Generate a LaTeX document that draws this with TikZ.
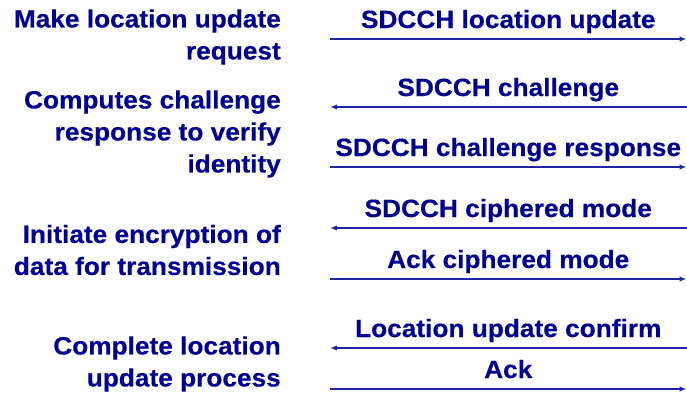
\documentclass[tikz,border=0pt]{standalone}
\usepackage{fontspec}
\setmainfont{Liberation Sans}[FakeStretch=1.05, BoldFeatures={FakeBold=0.4}]
\usetikzlibrary{arrows.meta}
\definecolor{navy}{RGB}{0,0,145}
\definecolor{linecol}{RGB}{35,35,165}
\tikzset{
  txt/.style={text=navy, font=\fontsize{25}{32}\selectfont\bfseries, inner sep=0pt},
  side/.style={txt, align=right, anchor=east},
  msg/.style={draw=linecol, line width=1.5pt, -{Latex[length=7pt,width=5.5pt]}},
  lbl/.style={txt, anchor=base, yshift=11pt}
}
\begin{document}
\begin{tikzpicture}[x=1pt,y=-1pt]
\useasboundingbox (0,0) rectangle (687,394);
% left side descriptions
\node[side] (d1) at (281,37) {Make location update\\request};
\node[side] (d2) at (281,134) {Computes challenge\\response to verify\\identity};
\node[side] (d3) at (281,250) {Initiate encryption of\hspace{8pt}\\data for transmission};
\node[side] (d4) at (281,364) {Complete location\\update process};
% end points of messages
\foreach \i/\y in {1/39,2/107,3/167,4/228,5/279,6/348,7/389}{
  \coordinate (L\i) at (330,\y);
  \coordinate (R\i) at (686.5,\y);
}
\draw[msg] (L1) -- (R1) node[lbl,midway] (m1) {SDCCH location update};
\draw[msg] (R2) -- (L2) node[lbl,midway] (m2) {SDCCH challenge};
\draw[msg] (L3) -- (R3) node[lbl,midway] (m3) {SDCCH challenge response};
\draw[msg] (R4) -- (L4) node[lbl,midway] (m4) {SDCCH ciphered mode};
\draw[msg] (L5) -- (R5) node[lbl,midway] (m5) {Ack ciphered mode};
\draw[msg] (R6) -- (L6) node[lbl,midway] (m6) {Location update confirm};
\draw[msg] (L7) -- (R7) node[lbl,midway] (m7) {Ack};
\end{tikzpicture}
\end{document}
